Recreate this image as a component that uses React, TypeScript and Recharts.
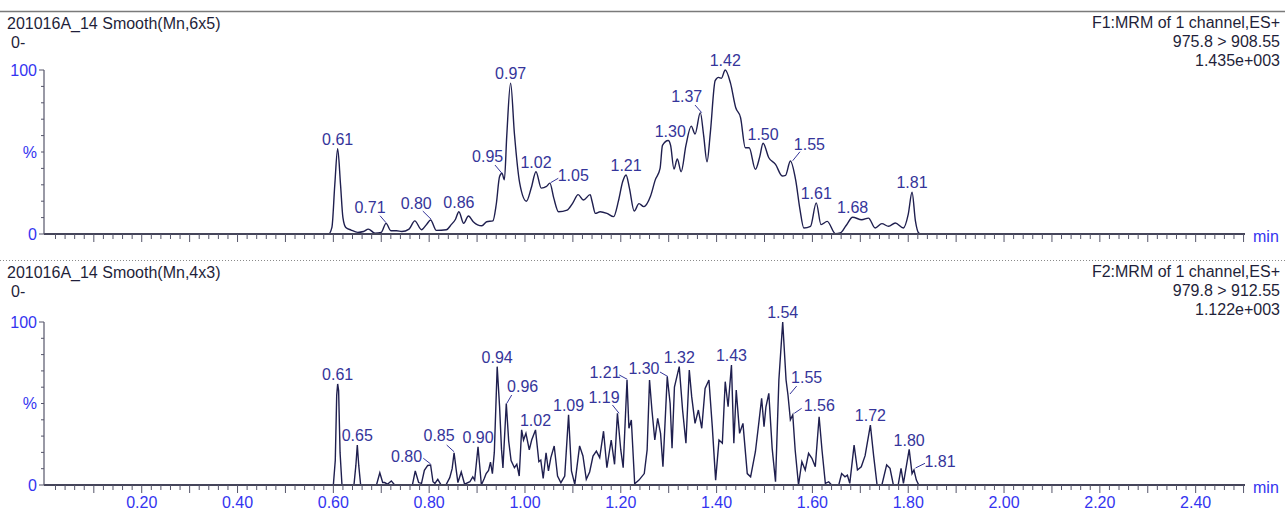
import React from 'react';
import { ComposedChart, Line, Scatter, XAxis, YAxis } from 'recharts';

// retention time (min), relative intensity (%)
const F1_TRACE: [number, number][] = [
  [0, 0], [0.59, 0], [0.597, 4], [0.603, 30], [0.609, 52], [0.615, 30], [0.62, 10], [0.626, 4],
  [0.637, 2.4], [0.651, 1], [0.663, 1.5], [0.673, 3], [0.687, 0.5], [0.7, 1], [0.71, 6.5],
  [0.72, 2], [0.732, 2], [0.743, 1.5], [0.758, 3], [0.77, 8], [0.784, 2.6], [0.795, 6],
  [0.803, 8.5], [0.815, 2.2], [0.836, 2.6], [0.846, 5.7], [0.855, 9], [0.862, 13.6], [0.872, 6.5],
  [0.882, 11], [0.892, 7.5], [0.91, 5], [0.92, 7.5], [0.933, 8], [0.94, 18], [0.947, 35],
  [0.952, 37], [0.957, 33], [0.962, 60], [0.97, 92], [0.978, 61], [0.989, 31], [1.003, 20],
  [1.013, 28], [1.023, 38], [1.034, 28], [1.045, 29], [1.052, 31], [1.06, 22], [1.07, 13.6],
  [1.088, 14.6], [1.1, 19], [1.111, 24], [1.122, 20.7], [1.136, 24], [1.14, 20], [1.147, 12.6],
  [1.157, 13.6], [1.171, 12.6], [1.185, 10.6], [1.195, 20], [1.204, 32], [1.211, 36], [1.218, 28],
  [1.228, 14], [1.238, 18.5], [1.248, 16.7], [1.262, 23], [1.272, 33], [1.282, 40], [1.287, 54],
  [1.299, 57], [1.304, 54], [1.311, 39.6], [1.318, 45.7], [1.326, 38], [1.336, 54], [1.347, 65.8],
  [1.355, 61], [1.366, 74], [1.373, 60], [1.38, 44], [1.387, 62], [1.397, 93.5], [1.404, 95.5],
  [1.41, 95], [1.418, 100], [1.429, 92], [1.44, 77], [1.45, 71], [1.46, 52.6], [1.468, 52.6],
  [1.481, 39.4], [1.49, 47], [1.497, 55.3], [1.509, 46.5], [1.523, 42.5], [1.537, 35.4],
  [1.544, 35.8], [1.554, 44.5], [1.565, 33], [1.574, 15], [1.582, 3.7], [1.596, 4.7],
  [1.608, 19], [1.618, 5.7], [1.631, 7.7], [1.648, 0.2], [1.658, 0.6], [1.67, 5], [1.684, 10.2],
  [1.703, 8.7], [1.717, 9.7], [1.731, 3.7], [1.745, 6.3], [1.759, 4.7], [1.773, 6.7],
  [1.79, 3.7], [1.8, 12], [1.808, 25.5], [1.815, 8], [1.822, 0.6], [1.83, 0], [2.5, 0],
];

const F2_TRACE: [number, number][] = [
  [0, 0], [0.6, 0], [0.604, 15], [0.607, 55], [0.609, 62], [0.611, 58], [0.614, 20], [0.618, 0],
  [0.643, 0], [0.647, 12], [0.65, 24.5], [0.653, 12], [0.657, 0], [0.69, 0], [0.697, 7.5],
  [0.703, 1.5], [0.707, 1.5], [0.713, 0.5], [0.721, 2.5], [0.728, 0], [0.765, 0], [0.771, 8.6],
  [0.778, 1.5], [0.784, 1], [0.79, 9], [0.797, 12], [0.803, 12.3], [0.808, 2], [0.812, 1],
  [0.818, 3.5], [0.825, 0], [0.835, 0], [0.843, 4.5], [0.848, 10], [0.852, 19.8], [0.857, 8],
  [0.86, 1.5], [0.867, 8], [0.874, 0.5], [0.885, 2], [0.891, 5], [0.895, 3], [0.902, 23.5],
  [0.909, 0], [0.915, 4], [0.919, 7], [0.924, 9], [0.928, 14], [0.932, 7], [0.936, 20],
  [0.942, 72.6], [0.947, 48], [0.951, 22], [0.954, 10.5], [0.961, 50], [0.966, 27], [0.971, 15],
  [0.978, 10.6], [0.983, 12.7], [0.988, 5.5], [0.993, 33.8], [0.997, 27.6], [1.002, 31.7],
  [1.009, 21.5], [1.014, 27.6], [1.022, 33.8], [1.029, 14.3], [1.033, 15.3], [1.038, 4.1],
  [1.044, 19.8], [1.049, 8.6], [1.054, 16.8], [1.061, 23.9], [1.068, 5.5], [1.075, 1.4],
  [1.083, 5.5], [1.091, 43], [1.097, 8.6], [1.104, 0.4], [1.114, 24], [1.121, 17.8],
  [1.128, 3.5], [1.135, 8], [1.142, 17.8], [1.149, 20.8], [1.156, 16.8], [1.164, 33],
  [1.171, 10.6], [1.18, 27.6], [1.187, 12.7], [1.193, 44], [1.2, 21.5], [1.205, 10.6],
  [1.213, 64.4], [1.217, 34.8], [1.222, 39.9], [1.229, 0.8], [1.238, 3], [1.249, 7],
  [1.255, 21.5], [1.26, 64.4], [1.265, 46], [1.271, 27.6], [1.277, 40.9], [1.283, 31.7],
  [1.288, 11.2], [1.297, 66.5], [1.303, 50], [1.307, 22.5], [1.312, 60], [1.322, 72.6],
  [1.329, 46], [1.336, 25.6], [1.343, 70.5], [1.348, 54.2], [1.355, 37.8], [1.362, 46],
  [1.369, 34.8], [1.376, 59.3], [1.384, 64.4], [1.391, 35.8], [1.398, 3], [1.405, 27.6],
  [1.412, 25.6], [1.418, 63.4], [1.424, 48], [1.431, 73.6], [1.436, 25.6], [1.441, 58.3],
  [1.448, 31.7], [1.455, 37.8], [1.464, 7], [1.471, 5], [1.481, 20.4], [1.488, 37.8],
  [1.494, 53.2], [1.499, 35.8], [1.503, 48], [1.509, 56.2], [1.516, 22.5], [1.523, 2],
  [1.53, 64.4], [1.538, 100], [1.545, 64.4], [1.549, 55.2], [1.554, 40], [1.559, 43],
  [1.564, 21.5], [1.571, 0], [1.578, 14.3], [1.585, 9.2], [1.592, 19.4], [1.599, 16.4],
  [1.606, 11.2], [1.614, 41.9], [1.62, 21.5], [1.627, 1], [1.634, 2], [1.64, 0], [1.655, 0],
  [1.661, 7], [1.668, 5], [1.673, 6], [1.678, 1], [1.687, 24.5], [1.694, 9.2], [1.702, 11.2],
  [1.71, 18], [1.721, 36.8], [1.728, 17.4], [1.735, 0], [1.745, 0], [1.755, 12.3], [1.762, 10.2],
  [1.769, 0], [1.779, 0], [1.785, 10.2], [1.79, 1], [1.802, 21.9], [1.808, 7], [1.812, 9.2],
  [1.817, 3], [1.822, 0], [2.5, 0],
];

// labelled peak apexes: time, intensity
const F1_PEAKS: [number, number][] = [
  [0.609, 52], [0.71, 6.5], [0.803, 8.5], [0.862, 13.6], [0.952, 37], [0.97, 92], [1.023, 38],
  [1.052, 31], [1.211, 36], [1.299, 57], [1.366, 74], [1.418, 100], [1.497, 55.3], [1.554, 44.5],
  [1.608, 19], [1.684, 10.2], [1.808, 25.5],
];

const F2_PEAKS: [number, number][] = [
  [0.609, 62], [0.65, 24.5], [0.803, 12.3], [0.852, 19.8], [0.902, 23.5], [0.942, 72.6],
  [0.961, 50], [1.022, 33.8], [1.091, 43], [1.193, 44], [1.213, 64.4], [1.297, 66.5],
  [1.322, 72.6], [1.431, 73.6], [1.538, 100], [1.549, 55.2], [1.559, 43], [1.721, 36.8],
  [1.802, 21.9], [1.812, 9.2],
];

const X_TICK_LABELS = ['0.20', '0.40', '0.60', '0.80', '1.00', '1.20', '1.40', '1.60', '1.80', '2.00', '2.20', '2.40'];
const Y_TICKS = [0, 10, 20, 30, 40, 50, 60, 70, 80, 90, 100];
const Y_TICK_LABELS: Record<number, string> = { 0: '0', 50: '%', 100: '100' };

const F1_TITLE = '201016A_14 Smooth(Mn,6x5)';
const F2_TITLE = '201016A_14 Smooth(Mn,4x3)';
const F1_INFO = ['F1:MRM of 1 channel,ES+', '975.8 > 908.55', '1.435e+003'];
const F2_INFO = ['F2:MRM of 1 channel,ES+', '979.8 > 912.55', '1.122e+003'];

// ---- layout ----
const W = 1285;
const FONT = '"Liberation Sans", Arial, sans-serif';
const TRACE_COLOR = '#1f1f4f';
const LABEL_COLOR = '#35359a';
const AXIS_BLUE = '#3434f0';
const X_DOMAIN: [number, number] = [-0.004, 2.503];
const X_TICKS = Array.from({ length: 125 }, (_, i) => +((i + 1) * 0.02).toFixed(2));

type LabelPos = { dx: number; dy: number; lead?: [number, number, number, number] };

const F1_LABEL_POS: Record<string, LabelPos> = {
  '0.71': { dx: -16, dy: -16.5, lead: [-6, -7.6, 0, -0.6] },
  '0.80': { dx: -14.4, dy: -17, lead: [-7.8, -9, 0.5, -0.8] },
  '0.95': { dx: -14.3, dy: -16.6, lead: [-7, -8.3, 0, 0] },
  '1.05': { dx: 23.4, dy: -8.2, lead: [8.4, -4.9, 0.8, -0.5] },
  '1.30': { dx: 2, dy: -9.5 },
  '1.37': { dx: -13.6, dy: -16, lead: [-5.3, -7.6, 1.4, 0] },
  '1.55': { dx: 19, dy: -17, lead: [9.6, -9.3, 2.3, -0.3] },
};

const F2_LABEL_POS: Record<string, LabelPos> = {
  '0.80': { dx: -24, dy: -9, lead: [-7.3, -6.7, 0, -1] },
  '0.85': { dx: -15, dy: -17, lead: [-7.4, -7.7, 0, -1] },
  '0.96': { dx: 16.4, dy: -16.8, lead: [5.4, -8.5, 0.4, 0] },
  '1.19': { dx: -13.4, dy: -16, lead: [-5, -8.3, 1.6, 0] },
  '1.21': { dx: -22, dy: -7.3, lead: [-7.7, -5, 0.3, -0.7] },
  '1.30': { dx: -23.3, dy: -8.3, lead: [-7.3, -4.6, 0.7, 0] },
  '1.55': { dx: 18.7, dy: -17.7, lead: [8.7, -9, 2, -1] },
  '1.56': { dx: 26.5, dy: -10, lead: [8.9, -6.6, 1.5, -1.6] },
  '1.81': { dx: 26, dy: -8.3, lead: [11, -6.7, 1.5, -2] },
};

const XTick = (props: any) => {
  const { x, y, payload, showLabels } = props;
  const v: number = payload.value;
  const k = Math.round(v / 0.02);
  const major = k % 5 === 0;
  const txt = v.toFixed(2);
  const label = showLabels && X_TICK_LABELS.includes(txt);
  return (
    <g>
      <line x1={x} x2={x} y1={y} y2={y + (major ? 8 : 5)} stroke="#55556a" strokeWidth={1} />
      {label && (
        <text x={x} y={y + 23} textAnchor="middle" fill={AXIS_BLUE} fontSize={16} fontFamily={FONT}>
          {txt}
        </text>
      )}
    </g>
  );
};

const YTick = (props: any) => {
  const { x, y, payload } = props;
  const v: number = payload.value;
  const label = Y_TICK_LABELS[v];
  const long = v === 0 || v === 100;
  return (
    <g>
      <line x1={x - (long ? 5 : 3)} x2={x} y1={y} y2={y} stroke="#55556a" strokeWidth={1} />
      {label && (
        <text x={x - 7} y={y + 5.7} textAnchor="end" fill={AXIS_BLUE} fontSize={16} fontFamily={FONT}>
          {label}
        </text>
      )}
    </g>
  );
};

const makePeakLabel = (pos: Record<string, LabelPos>) => (props: any) => {
  const { cx, cy, payload } = props;
  if (cx == null || cy == null) return <g />;
  const txt = (payload.t as number).toFixed(2);
  const p = pos[txt] ?? { dx: 0, dy: -9.5 };
  return (
    <g>
      {p.lead && (
        <line
          x1={cx + p.lead[0]}
          y1={cy + p.lead[1]}
          x2={cx + p.lead[2]}
          y2={cy + p.lead[3]}
          stroke={LABEL_COLOR}
          strokeWidth={1}
        />
      )}
      <text x={cx + p.dx} y={cy + p.dy + 5.7} textAnchor="middle" fill={LABEL_COLOR} fontSize={16} fontFamily={FONT}>
        {txt}
      </text>
    </g>
  );
};

type PanelProps = {
  top: number;
  height: number;
  plotTop: number;
  plotHeight: number;
  trace: [number, number][];
  peaks: [number, number][];
  labelPos: Record<string, LabelPos>;
  showTickLabels: boolean;
  curve: 'monotone' | 'linear';
};

const Panel = ({ top, height, plotTop, plotHeight, trace, peaks, labelPos, showTickLabels, curve }: PanelProps) => {
  const lineData = trace.map(([t, v]) => ({ t, v }));
  const peakData = peaks.map(([t, v]) => ({ t, v }));
  const xAxisHeight = height - plotTop - plotHeight;
  return (
    <div style={{ position: 'absolute', left: 0, top, width: W, height }}>
      <ComposedChart width={W} height={height} margin={{ top: plotTop, right: 40, bottom: 0, left: 0 }}>
        <XAxis
          type="number"
          dataKey="t"
          domain={X_DOMAIN}
          ticks={X_TICKS}
          interval={0}
          tickSize={0}
          tickMargin={0}
          height={xAxisHeight}
          tickLine={false}
          axisLine={{ stroke: '#45455a', strokeWidth: 2 }}
          tick={(p: any) => <XTick {...p} showLabels={showTickLabels} />}
        />
        <YAxis
          type="number"
          domain={[0, 100]}
          ticks={Y_TICKS}
          interval={0}
          width={44}
          tickSize={0}
          tickMargin={0}
          tickLine={false}
          axisLine={{ stroke: '#55556a', strokeWidth: 1.2 }}
          tick={(p: any) => <YTick {...p} />}
        />
        <Line
          data={lineData}
          dataKey="v"
          type={curve}
          stroke={TRACE_COLOR}
          strokeWidth={1.4}
          dot={false}
          activeDot={false}
          isAnimationActive={false}
        />
        <Scatter data={peakData} dataKey="v" shape={makePeakLabel(labelPos)} isAnimationActive={false} />
      </ComposedChart>
    </div>
  );
};

const Header = ({ title, info, base, axisY }: { title: string; info: string[]; base: number; axisY: number }) => (
  <g fontFamily={FONT} fontSize={16}>
    <text x={7} y={base} fill="#1f1f3a">{title}</text>
    <text x={11} y={base + 19} fill="#1f1f3a">0-</text>
    {info.map((s, i) => (
      <text key={s} x={1280} y={base - 1 + i * 19} textAnchor="end" fill="#1f1f3a">
        {s}
      </text>
    ))}
    <text x={1253} y={axisY + 8} fill={AXIS_BLUE}>min</text>
  </g>
);

export default function App() {
  return (
    <div style={{ position: 'absolute', left: 0, top: 0, width: W, height: 512, background: '#fff', overflow: 'hidden' }}>
      <Panel
        top={0}
        height={260}
        plotTop={70}
        plotHeight={164}
        trace={F1_TRACE}
        peaks={F1_PEAKS}
        labelPos={F1_LABEL_POS}
        showTickLabels={false}
        curve="monotone"
      />
      <Panel
        top={260}
        height={252}
        plotTop={62}
        plotHeight={163}
        trace={F2_TRACE}
        peaks={F2_PEAKS}
        labelPos={F2_LABEL_POS}
        showTickLabels
        curve="linear"
      />
      <svg width={W} height={512} style={{ position: 'absolute', left: 0, top: 0, pointerEvents: 'none' }}>
        <line x1={0} x2={W} y1={11.5} y2={11.5} stroke="#7a7a7a" strokeWidth={1.5} />
        <line x1={0} x2={W} y1={260.5} y2={260.5} stroke="#8a8a8a" strokeWidth={1} strokeDasharray="1 2" />
        <Header title={F1_TITLE} info={F1_INFO} base={28.5} axisY={234} />
        <Header title={F2_TITLE} info={F2_INFO} base={278} axisY={485} />
      </svg>
    </div>
  );
}
